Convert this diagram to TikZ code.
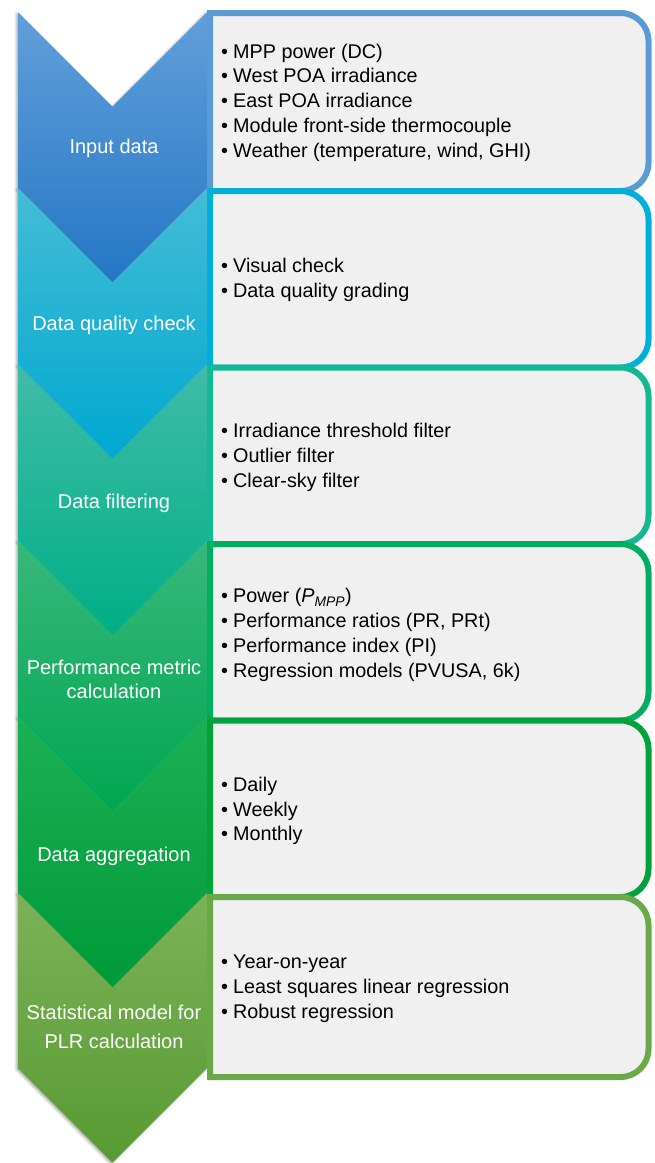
\documentclass[tikz,border=0pt]{standalone}
\usepackage{fontspec}
\setmainfont{Liberation Sans}
\usetikzlibrary{shadows.blur}

% chevron fills (top / bottom of the gradient) and panel borders
\definecolor{panelfill}{HTML}{F0F0F0}
\definecolor{chAt}{HTML}{629FDA}\definecolor{chAb}{HTML}{2477C6}
\definecolor{chBt}{HTML}{45BCD6}\definecolor{chBb}{HTML}{00A8D0}
\definecolor{chCt}{HTML}{40BCAA}\definecolor{chCb}{HTML}{00AE85}
\definecolor{chDt}{HTML}{38B87C}\definecolor{chDb}{HTML}{00A650}
\definecolor{chEt}{HTML}{1CB055}\definecolor{chEb}{HTML}{009A38}
\definecolor{chFt}{HTML}{7DB258}\definecolor{chFb}{HTML}{579A33}
\definecolor{bdA}{HTML}{5B9BD5}
\definecolor{bdB}{HTML}{00B0D6}
\definecolor{bdC}{HTML}{14B893}
\definecolor{bdD}{HTML}{00AE62}
\definecolor{bdE}{HTML}{00A23A}
\definecolor{bdF}{HTML}{6BA84A}

% chevron outline: #1 top edge, #2 lower end of the sides
\newcommand\chevpath[2]{(18,#1) -- (112.5,#1+94.5) -- (207,#1) -- (207,#2)
  -- (112.5,#2+94.5) -- (18,#2) -- cycle}
% one chevron: #1 top, #2 side end, #3 top colour, #4 bottom colour
\newcommand\chevron[4]{\path[shade, top color=#3, bottom color=#4] \chevpath{#1}{#2};}
\newcommand\chevshadow[2]{\path[chshadow] \chevpath{#1}{#2};}
% panel with rounded right-hand corners: #1 top, #2 bottom, #3 border colour
\newcommand\panel[3]{\draw[panelbox, draw=#3] (210,#2) -- (210,#1) -- (620.5,#1)
  arc[start angle=90, end angle=0, radius=28pt] -- (648.5,#2-28)
  arc[start angle=0, end angle=-90, radius=28pt] -- cycle;}
\newcommand\itm[1]{\makebox[12pt][l]{•}#1}

\begin{document}
\begin{tikzpicture}[x=1pt, y=-1pt,
  chshadow/.style={blur shadow={shadow xshift=-1.5pt, shadow yshift=-1.5pt,
      shadow blur radius=2.5pt, shadow opacity=35}},
  panelbox/.style={line width=6pt, fill=panelfill, line join=miter},
  steplabel/.style={text=white, font=\fontsize{20}{24}\selectfont,
      align=center, inner sep=0pt},
  items/.style={font=\fontsize{19.8}{24.8}\selectfont, align=left,
      anchor=west, inner sep=0pt}]
\useasboundingbox (0,0) rectangle (654,1163);

% soft shadows under the chevrons
\chevshadow{12}{188.2}
\chevshadow{188.2}{364.4}
\chevshadow{364.4}{540.6}
\chevshadow{540.6}{716.8}
\chevshadow{716.8}{893}
\chevshadow{893}{1068}

% chevrons
\chevron{12}{188.2}{chAt}{chAb}
\chevron{188.2}{364.4}{chBt}{chBb}
\chevron{364.4}{540.6}{chCt}{chCb}
\chevron{540.6}{716.8}{chDt}{chDb}
\chevron{716.8}{893}{chEt}{chEb}
\chevron{893}{1068}{chFt}{chFb}

% detail panels
\panel{13}{191}{bdA}
\panel{191}{367.5}{bdB}
\panel{367.5}{544}{bdC}
\panel{544}{720.5}{bdD}
\panel{720.5}{897}{bdE}
\panel{897}{1077}{bdF}

% step labels
\node[steplabel] (l1) at (114,148) {Input data};
\node[steplabel] (l2) at (114,325) {Data quality check};
\node[steplabel] (l3) at (114,503) {Data filtering};
\node[steplabel] (l4) at (114,679) {Performance metric\\calculation};
\node[steplabel] (l5) at (114,856) {Data aggregation};
\node[steplabel, font=\fontsize{20}{29}\selectfont] (l6) at (114,1027)
  {Statistical model for\\PLR calculation};

% panel contents
\node[items] (t1) at (221,102.5) {\itm{MPP power (DC)}\\\itm{West POA irradiance}\\
  \itm{East POA irradiance}\\\itm{Module front-side thermocouple}\\
  \itm{Weather (temperature, wind, GHI)}};
\node[items] (t2) at (221,280) {\itm{Visual check}\\\itm{Data quality grading}};
\node[items] (t3) at (221,457.5) {\itm{Irradiance threshold filter}\\
  \itm{Outlier filter}\\\itm{Clear-sky filter}};
\node[items] (t4) at (221,635) {\itm{Power (\textit{P\textsubscript{MPP}})}\\
  \itm{Performance ratios (PR, PRt)}\\\itm{Performance index (PI)}\\
  \itm{Regression models (PVUSA, 6k)}};
\node[items] (t5) at (221,811) {\itm{Daily}\\\itm{Weekly}\\\itm{Monthly}};
\node[items] (t6) at (221,989) {\itm{Year-on-year}\\
  \itm{Least squares linear regression}\\\itm{Robust regression}};
\end{tikzpicture}
\end{document}
